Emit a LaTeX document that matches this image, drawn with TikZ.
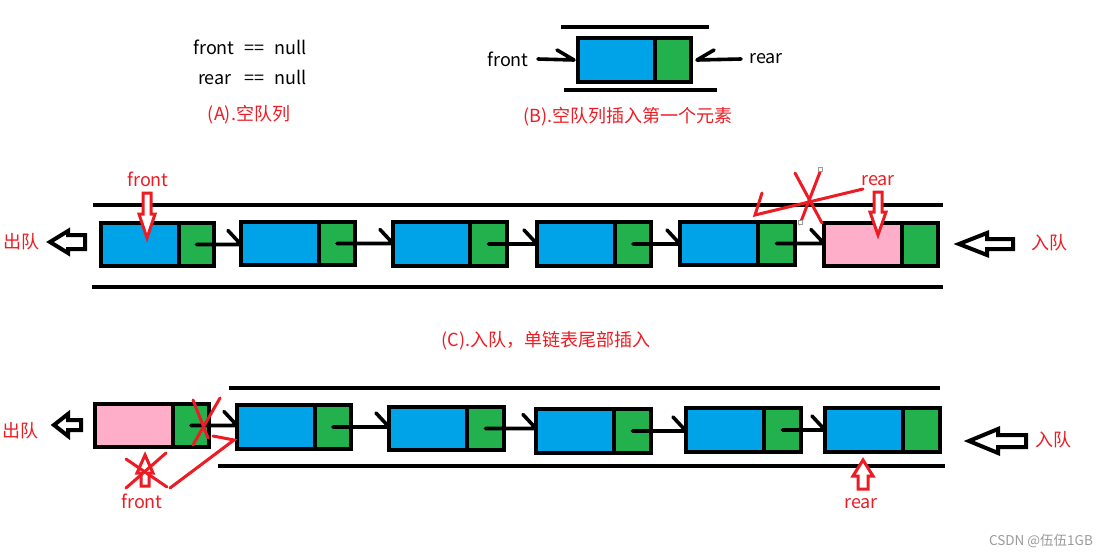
\documentclass[tikz,border=0pt]{standalone}
\usepackage{fontspec}
\setmainfont{Noto Sans CJK SC}
\definecolor{qblue}{HTML}{00A2E8}
\definecolor{qgreen}{HTML}{22B14C}
\definecolor{qpink}{HTML}{FFAEC9}
\definecolor{qred}{HTML}{ED1C24}
\definecolor{qgray}{HTML}{9A9A9A}
\newcommand\qbox[7]{%
  \node[cell, fill=#7, minimum width={(#3-#2-2)*1pt}, minimum height={(#6-#5-4)*1pt}]
    (#1d) at ({(#2+2+#3)/2},{(#5+#6)/2}) {};
  \node[cell, fill=qgreen, minimum width={(#4-2-#3)*1pt}, minimum height={(#6-#5-4)*1pt}]
    (#1n) at ({(#3+#4-2)/2},{(#5+#6)/2}) {};
}
\newcommand\qlink[2]{\draw[link] (#1n.center) -- (#2d.west |- #1n.center) -- ++(-13,-14);}
\newcommand\hollowL[6]{\draw[hollow] (#1,#2) -- (#3,{#2-#4}) -- (#3,{#2-#6}) -- (#5,{#2-#6}) -- (#5,{#2+#6}) -- (#3,{#2+#6}) -- (#3,{#2+#4}) -- cycle;}
\newcommand\redArr[6]{\draw[redarrow] ({#1-#5},#2) -- ({#1+#5},#2) -- ({#1+#5},#3) -- ({#1+#6},#3) -- (#1,#4) -- ({#1-#6},#3) -- ({#1-#5},#3) -- cycle;}
\begin{document}
\begin{tikzpicture}[x=1pt,y=-1pt,
  cell/.style={draw=black, line width=4pt, inner sep=0pt, outer sep=0pt},
  rail/.style={line width=4pt},
  link/.style={line width=3.6pt, line cap=round, line join=round},
  hollow/.style={draw=black, line width=4pt, line join=miter, fill=white},
  redarrow/.style={draw=qred, line width=3pt, line join=miter, fill=white},
  redmark/.style={draw=qred, line width=3pt, line cap=round},
  lbl/.style={font=\fontsize{18}{21}\selectfont, inner sep=0pt},
  redlbl/.style={lbl, text=qred},
  handle/.style={draw=qgray, line width=0.8pt, fill=white}]
\useasboundingbox[fill=white] (0,0) rectangle (1111,557);

% ---------- (A) ----------
\node[lbl, anchor=east] (anull) at (307,47) {front\hspace{10pt}==\hspace{10pt}null};
\node[lbl, anchor=east] (rnull) at (307,77) {rear\hspace{13pt}==\hspace{10pt}null};
\node[redlbl] (capA) at (249,115) {(A).空队列};

% ---------- (B) ----------
\draw[rail] (561,27) -- (709,27);
\draw[rail] (564,90) -- (717,90);
\qbox{b1}{576}{655}{693}{36}{84}{qblue}
\node[lbl] (bfront) at (508,59) {front};
\node[lbl] (brear) at (766,59) {rear};
\draw[link] ([xshift=9pt]bfront.east) -- ([xshift=-4pt]b1d.west) -- ++(-17,-10);
\draw[link] ([xshift=-8pt]brear.west) -- ([xshift=6pt]b1n.east) -- ++(17,-10);
\node[redlbl] (capB) at (628,117) {(B).空队列插入第一个元素};

% ---------- (C) ----------
\draw[rail] (93,205) -- (943,205);
\draw[rail] (92,287) -- (943,287);
\qbox{c1}{99}{179}{216}{221}{268}{qblue}
\qbox{c2}{239}{319}{357}{220}{267}{qblue}
\qbox{c3}{391}{470}{509}{220}{268}{qblue}
\qbox{c4}{535}{615}{653}{220}{268}{qblue}
\qbox{c5}{678}{758}{797}{220}{267}{qblue}
\qbox{c6}{822}{902}{940}{221}{268}{qpink}
\qlink{c1}{c2}
\qlink{c2}{c3}
\qlink{c3}{c4}
\qlink{c4}{c5}
\qlink{c5}{c6}
\hollowL{50}{242}{68}{11}{85}{7}
\hollowL{959}{244}{987}{11}{1013}{5}
\node[redlbl] (cout) at (22,242) {出队};
\node[redlbl] (cin) at (1049,243) {入队};
\node[redlbl] (cfront) at (148,179) {front};
\node[redlbl] (crear) at (878,181) {rear};
\redArr{147}{193}{214}{238}{4}{8}
\redArr{878}{192}{212}{235}{4}{8}
% crossed-out old rear pointer
\draw[redmark] (762,193) -- (755,215) -- (863,189);
\draw[redmark] (795,173) -- (822,223);
\draw[redmark] (820,172) -- (800,224);
\draw[handle] (818,167) rectangle (822,171);
\draw[handle] (798,220) rectangle (802,224);
\node[redlbl] (capC) at (546,341) {(C).入队，单链表尾部插入};

% ---------- (D) ----------
\draw[rail] (229,388) -- (940,388);
\draw[rail] (218,466) -- (945,466);
\qbox{d1}{93}{173}{211}{402}{449}{qpink}
\qbox{d2}{235}{315}{353}{403}{451}{qblue}
\qbox{d3}{387}{467}{506}{405}{452}{qblue}
\qbox{d4}{534}{614}{653}{407}{455}{qblue}
\qbox{d5}{684}{764}{803}{406}{454}{qblue}
\qbox{d6}{823}{903}{942}{406}{454}{qblue}
\qlink{d1}{d2}
\qlink{d2}{d3}
\qlink{d3}{d4}
\qlink{d4}{d5}
\qlink{d5}{d6}
\hollowL{54}{425}{68}{11}{81}{5}
\hollowL{969}{441}{998}{12}{1026}{6}
\node[redlbl] (dout) at (20,431) {出队};
\node[redlbl] (din) at (1053,440) {入队};
\node[redlbl] (dfront) at (142,501) {front};
\node[redlbl] (drear) at (861,504) {rear};
\redArr{145}{486}{473}{455}{4}{8}
\redArr{863}{489}{476}{460}{5}{10}
% crossed-out old link and old front
\draw[redmark] (193,400) -- (208,438);
\draw[redmark] (220,398) -- (193,445);
\draw[redmark] (126,459) -- (167,487);
\draw[redmark] (166,453) -- (126,488);
\draw[redmark] (170,488) -- (234,440) -- (213,436);

% watermark
\node[font=\fontsize{13.5}{15}\selectfont, text=qgray, inner sep=0pt] (wm) at (1041,541) {CSDN @伍伍1GB};
\end{tikzpicture}
\end{document}
